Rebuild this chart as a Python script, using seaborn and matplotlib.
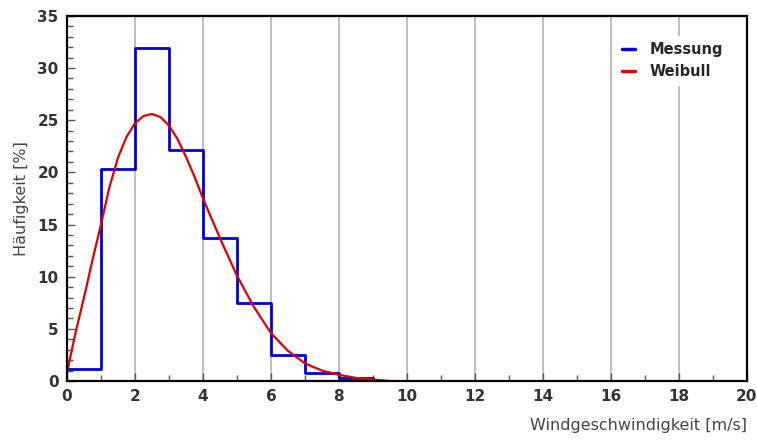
import numpy as np
import pandas as pd
import matplotlib
matplotlib.use("Agg")
import matplotlib.pyplot as plt
import seaborn as sns
from matplotlib.ticker import MultipleLocator
from matplotlib.lines import Line2D

# Data
bin_edges = [0, 1, 2, 3, 4, 5, 6, 7, 8, 9]
messung = [1.2, 20.3, 31.9, 22.1, 13.7, 7.5, 2.5, 0.8, 0.3]
weibull_x = [0, 0.25, 0.5, 0.75, 1.0, 1.25, 1.5, 1.75, 2.0, 2.25, 2.5, 2.75, 3.0, 3.25, 3.5,
             3.75, 4.0, 4.5, 5.0, 5.5, 6.0, 6.5, 7.0, 7.5, 8.0, 8.5, 9.0, 9.5]
weibull_y = [0.8, 4.6, 8.0, 11.6, 15.0, 18.6, 21.4, 23.4, 24.7, 25.4, 25.6, 25.3, 24.5, 23.2, 21.5,
             19.6, 17.5, 13.7, 10.1, 7.1, 4.6, 2.9, 1.7, 1.0, 0.6, 0.3, 0.15, 0.0]

sns.set_style("white")
plt.rcParams['font.family'] = ['DejaVu Sans']

fig = plt.figure(figsize=(7.57, 4.40), dpi=100)
ax = fig.add_axes([0.0885, 0.134, 0.898, 0.83])

centers = [(a + b) / 2 for a, b in zip(bin_edges[:-1], bin_edges[1:])]
df_h = pd.DataFrame({"x": centers, "w": messung})
sns.histplot(data=df_h, x="x", weights="w", bins=bin_edges, element="step",
             fill=False, color="#0000dd", linewidth=2, ax=ax)
df_w = pd.DataFrame({"x": weibull_x, "y": weibull_y})
sns.lineplot(data=df_w, x="x", y="y", color="#e00000", linewidth=1.6, ax=ax)

ax.set_xlim(0, 20)
ax.set_ylim(0, 35)
ax.xaxis.set_major_locator(MultipleLocator(2))
ax.xaxis.set_minor_locator(MultipleLocator(1))
ax.yaxis.set_major_locator(MultipleLocator(5))
ax.yaxis.set_minor_locator(MultipleLocator(1))
ax.grid(False)
ax.grid(True, axis="x", which="major", color="#b0b0b0", linewidth=1.2)
ax.set_axisbelow(True)
ax.tick_params(axis="both", which="both", bottom=True, left=True, top=False, right=False)
ax.tick_params(axis="both", which="major", direction="in", length=6, width=1,
               color="#555555", labelsize=11, labelcolor="#333333", pad=6)
ax.tick_params(axis="both", which="minor", direction="in", length=4, width=1, color="#555555")
for lab in ax.get_xticklabels() + ax.get_yticklabels():
    lab.set_fontweight("semibold")
for s in ax.spines.values():
    s.set_color("black")
    s.set_linewidth(1.6)

ax.set_xlabel("Windgeschwindigkeit [m/s]", fontsize=11.5, color="#444444", loc="right",
              labelpad=10)
ax.set_ylabel("Häufigkeit [%]", fontsize=11.5, color="#444444", labelpad=6)

handles = [Line2D([], [], color="#0000dd", linewidth=2.5),
           Line2D([], [], color="#e00000", linewidth=2.5)]
leg = ax.legend(handles, ["Messung", "Weibull"], loc="upper right",
                bbox_to_anchor=(0.984, 0.965), frameon=True, framealpha=1,
                edgecolor="white", handlelength=0.9, handletextpad=1.0,
                fontsize=10.5, borderpad=0.4, labelspacing=0.5)
for t in leg.get_texts():
    t.set_fontweight("semibold")

fig.savefig("out.png", dpi=100)
